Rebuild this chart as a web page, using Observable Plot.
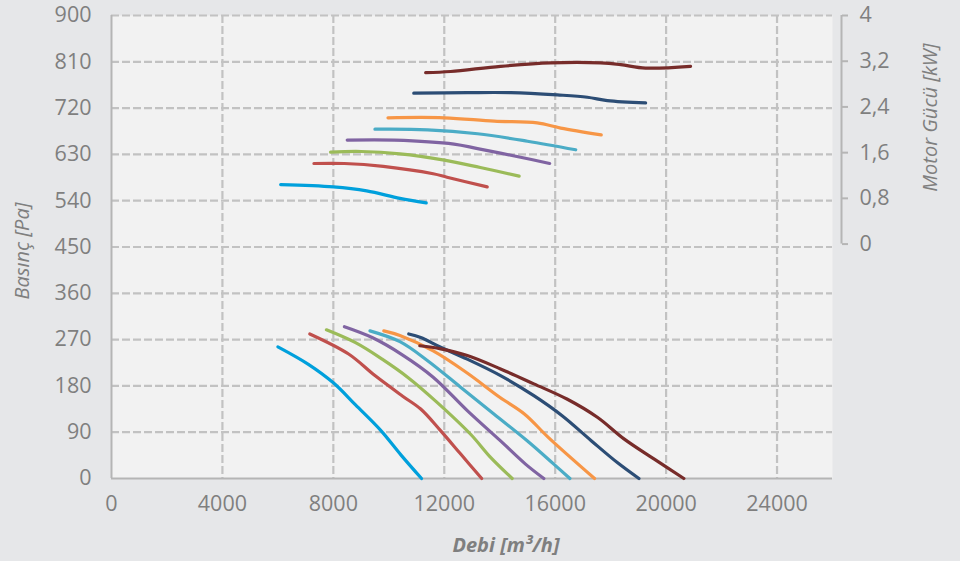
<!DOCTYPE html>
<html><head><meta charset="utf-8">
<script src="https://cdn.jsdelivr.net/npm/d3@7"></script>
<script src="https://cdn.jsdelivr.net/npm/@observablehq/plot@0.6"></script>
<style>
html,body{margin:0;padding:0;background:#e6e7e9;}
#chart svg{display:block;}
</style></head><body><div id="chart"></div>
<script>
// Axis ticks
const xTicks = [0, 4000, 8000, 12000, 16000, 20000, 24000];
const yTicks = [0, 90, 180, 270, 360, 450, 540, 630, 720, 810, 900];
const kwTicks = [0, 0.8, 1.6, 2.4, 3.2, 4];

// Series colours (one per fan model)
const colors = ["#00a0dc", "#c0504d", "#9bbb59", "#8064a2", "#4bacc6", "#f79646", "#2c4d75", "#772c2a"];

// Pressure curves: [Debi m3/h, Basınç Pa]
const pressure1 = [[6000,256],[7100,222],[8000,186],[8800,143],[9700,94],[10450,45],[11180,0]];
const pressure2 = [[7150,281],[8550,242],[9500,200],[10500,160],[11150,135],[11850,94],[12600,47],[13350,0]];
const pressure3 = [[7750,289],[8800,264],[9760,232],[10700,196],[11700,150],[12950,86],[13670,41],[14450,0]];
const pressure4 = [[8400,295],[9400,274],[10500,240],[11600,197],[12830,132],[14030,73],[14930,28],[15590,0]];
const pressure5 = [[9320,287],[10400,266],[11400,229],[12600,177],[13800,125],[15000,73],[15950,28],[16530,0]];
const pressure6 = [[9820,287],[10400,278],[11600,248],[12800,206],[14000,158],[14900,125],[15750,80],[17420,0]];
const pressure7 = [[10720,281],[11150,274],[11870,255],[12830,232],[14030,200],[15230,161],[16250,122],[17310,73],[18240,31],[19020,0]];
const pressure8 = [[11120,258],[11870,252],[12830,239],[14030,213],[15230,184],[16440,154],[17520,119],[18480,77],[19560,38],[20640,0]];

// Motor power curves: [Debi m3/h, Motor Gücü kW]
const power1 = [[6100,1.04],[8000,1.0],[9200,0.93],[10400,0.8],[11350,0.72]];
const power2 = [[7300,1.41],[8400,1.41],[9800,1.36],[11600,1.23],[12100,1.17],[13550,1.0]];
const power3 = [[7900,1.61],[9000,1.62],[10400,1.58],[12000,1.47],[13300,1.34],[14700,1.19]];
const power4 = [[8500,1.82],[10200,1.82],[12350,1.75],[13200,1.67],[14750,1.52],[15800,1.41]];
const power5 = [[9500,2.01],[11400,2.0],[13200,1.93],[15000,1.80],[16740,1.65]];
const power6 = [[9970,2.21],[12000,2.21],[13800,2.15],[15350,2.12],[16200,2.03],[17660,1.91]];
const power7 = [[10900,2.64],[12830,2.65],[14400,2.65],[16080,2.61],[17160,2.57],[17880,2.51],[19260,2.47]];
const power8 = [[11330,3.0],[12230,3.02],[14030,3.11],[15830,3.17],[17640,3.17],[18360,3.14],[19260,3.08],[20880,3.11]];

const pressures = [pressure1, pressure2, pressure3, pressure4, pressure5, pressure6, pressure7, pressure8];
const powers = [power1, power2, power3, power4, power5, power6, power7, power8];

// Secondary (right) axis: kW [0,4] placed on the Pa scale range [455.7, 900]
const kwScale = d3.scaleLinear().domain([0, 4]).range([455.7, 900]);
const kwLabel = p => String(Math.round(kwScale.invert(p) * 10) / 10).replace(".", ",");

const gray = "#c2c2c2";
const axisGray = "#b5b5b5";
const textGray = "#7f7f7f";
const dash = "8,3";
const tickFont = 21.5;

const marks = [
  Plot.frame({fill: "#f2f2f2", stroke: null}),
  Plot.gridX({ticks: xTicks.filter(d => d > 0), stroke: gray, strokeOpacity: 1, strokeWidth: 2.2, strokeDasharray: dash}),
  Plot.gridY({ticks: yTicks.filter(d => d > 0), stroke: gray, strokeOpacity: 1, strokeWidth: 2.2, strokeDasharray: dash}),
  Plot.ruleX([0], {stroke: axisGray, strokeWidth: 2}),
  Plot.ruleY([0], {stroke: axisGray, strokeWidth: 2}),
  Plot.axisX({ticks: xTicks, tickSize: 0, tickPadding: 17, label: null, tickFormat: d => String(d), fill: textGray, fontSize: tickFont}),
  Plot.axisY({ticks: yTicks, tickSize: 0, tickPadding: 20, label: null, tickFormat: d => String(d), fill: textGray, fontSize: tickFont}),
  Plot.ruleX([26000], {y1: kwScale(0), y2: kwScale(4), dx: 9, stroke: axisGray, strokeWidth: 2}),
  Plot.axisY(kwTicks.map(kwScale), {anchor: "right", label: null, tickSize: 6, tickPadding: 12, dx: 9, stroke: axisGray, strokeWidth: 2, fill: textGray, fontSize: tickFont, tickFormat: kwLabel}),
];

pressures.forEach((s, i) => {
  marks.push(Plot.line(s, {x: d => d[0], y: d => d[1], stroke: colors[i], strokeWidth: 3.2, curve: "catmull-rom", strokeLinecap: "round"}));
});
powers.forEach((s, i) => {
  marks.push(Plot.line(s, {x: d => d[0], y: d => kwScale(d[1]), stroke: colors[i], strokeWidth: 3.2, curve: "catmull-rom", strokeLinecap: "round"}));
});

marks.push(
  Plot.text(["Debi [m³/h]"], {frameAnchor: "bottom", dx: 34, dy: 67, textAnchor: "middle", lineAnchor: "middle", fontWeight: "bold", fontStyle: "italic", fontSize: 20, fill: textGray}),
  Plot.text(["Basınç [Pa]"], {frameAnchor: "left", dx: -89, dy: 4, rotate: -90, textAnchor: "middle", lineAnchor: "middle", fontStyle: "italic", fontSize: 20, fill: textGray}),
  Plot.text(["Motor Gücü [kW]"], {frameAnchor: "top-right", dx: 98, dy: 102, rotate: -90, textAnchor: "middle", lineAnchor: "middle", fontStyle: "italic", fontSize: 20, fill: textGray})
);

const chart = Plot.plot({
  width: 960, height: 561,
  marginLeft: 111, marginRight: 128, marginTop: 15, marginBottom: 83,
  style: {background: "#e6e7e9", fontFamily: "'Open Sans', sans-serif", fontSize: "20px", color: textGray},
  x: {domain: [0, 26000]},
  y: {domain: [0, 900]},
  marks
});
document.getElementById("chart").appendChild(chart);
</script>
</body></html>
